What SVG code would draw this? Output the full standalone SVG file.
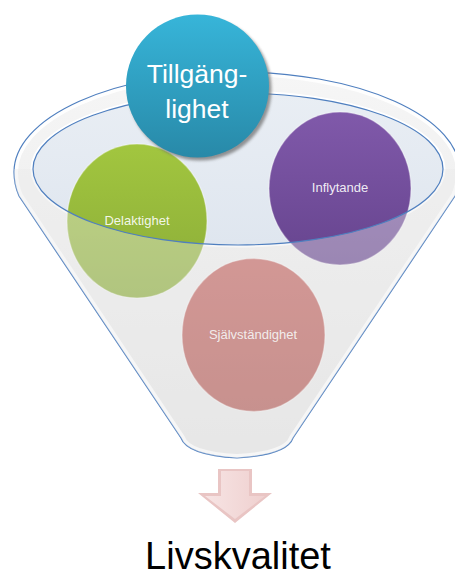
<svg xmlns="http://www.w3.org/2000/svg" width="455" height="579" viewBox="0 0 455 579">
  <defs>
    <linearGradient id="gBody" x1="0" y1="0" x2="0" y2="1">
      <stop offset="0" stop-color="#f6f6f6"/>
      <stop offset="1" stop-color="#e4e4e4"/>
    </linearGradient>
    <linearGradient id="gInner" x1="0" y1="0" x2="0" y2="1">
      <stop offset="0" stop-color="#e9eef4"/>
      <stop offset="1" stop-color="#dfe6ef"/>
    </linearGradient>
    <linearGradient id="gBlue" x1="0" y1="0" x2="0" y2="1">
      <stop offset="0" stop-color="#37b5d9"/>
      <stop offset="1" stop-color="#2889a8"/>
    </linearGradient>
    <linearGradient id="gGreen" x1="0" y1="0" x2="0" y2="1">
      <stop offset="0" stop-color="#a2c63f"/>
      <stop offset="1" stop-color="#8aab38"/>
    </linearGradient>
    <linearGradient id="gPurple" x1="0" y1="0" x2="0" y2="1">
      <stop offset="0" stop-color="#8059aa"/>
      <stop offset="1" stop-color="#66448e"/>
    </linearGradient>
    <linearGradient id="gRed" x1="0" y1="0" x2="0" y2="1">
      <stop offset="0" stop-color="#c2605c"/>
      <stop offset="1" stop-color="#b05651"/>
    </linearGradient>
    <linearGradient id="gArrow" x1="0" y1="0" x2="1" y2="0">
      <stop offset="0" stop-color="#f7e4e4"/>
      <stop offset="1" stop-color="#efd0cf"/>
    </linearGradient>
    <filter id="fShadow" x="-20%" y="-20%" width="140%" height="140%">
      <feGaussianBlur stdDeviation="1.5"/>
    </filter>
    <mask id="mFront" maskUnits="userSpaceOnUse" x="0" y="0" width="455" height="579">
      <rect x="0" y="169" width="455" height="410" fill="#fff"/>
      <ellipse cx="238" cy="169" rx="205" ry="76" fill="#000"/>
    </mask>
    <path id="funnelShape" d="M 14,172 A 223,100 0 0 1 460,172 C 460,180 459,187 455,196 L 293,438 Q 287,455 237,458 Q 187,455 181,438 L 19,196 C 15,187 14,180 14,172 Z"/>
  </defs>
  <style>
    .rim { fill: none; stroke: #4f7fbf; stroke-width: 1.2; }
    .glow { fill: none; stroke: #ffffff; stroke-width: 8; opacity: 0.9; }
    .node-circle { stroke: #ffffff; stroke-opacity: 0.35; stroke-width: 1.5; }
    .small { font-family: "Liberation Sans", Arial, sans-serif; font-size: 13px; fill: #ffffff; fill-opacity: 0.9; text-anchor: middle; }
    .big { font-family: "Liberation Sans", Arial, sans-serif; font-size: 26.5px; fill: #ffffff; text-anchor: middle; }
    .label { font-family: "Liberation Sans", Arial, sans-serif; font-size: 38px; fill: #000000; text-anchor: middle; }
  </style>

  <g id="funnel-back">
    <use href="#funnelShape" fill="url(#gBody)"/>
    <use href="#funnelShape" class="glow"/>
    <use href="#funnelShape" class="rim"/>
    <ellipse cx="238" cy="169" rx="206" ry="77" fill="none" stroke="#ffffff" stroke-width="3"/>
    <ellipse cx="238" cy="169" rx="205" ry="76" fill="url(#gInner)"/>
  </g>

  <g id="node-delaktighet">
    <ellipse class="node-circle" cx="137" cy="221" rx="70" ry="77" fill="url(#gGreen)"/>
    <text class="small" x="137" y="225">Delaktighet</text>
  </g>

  <g id="node-inflytande">
    <ellipse class="node-circle" cx="340" cy="188.5" rx="71" ry="76.5" fill="url(#gPurple)"/>
    <text class="small" x="340" y="192">Inflytande</text>
  </g>

  <g id="node-sjalvstandighet">
    <ellipse class="node-circle" cx="253.5" cy="335" rx="71.5" ry="76.5" fill="url(#gRed)"/>
    <text class="small" x="253" y="339">Självständighet</text>
  </g>

  <g id="funnel-front">
    <use href="#funnelShape" fill="#ebebeb" fill-opacity="0.4" mask="url(#mFront)"/>
    <ellipse cx="238" cy="169" rx="205" ry="76" class="rim"/>
  </g>

  <g id="node-tillganglighet">
    <circle cx="200" cy="89" r="71.5" fill="#6b6b6b" opacity="0.7" filter="url(#fShadow)"/>
    <circle cx="197.5" cy="86" r="71.5" fill="url(#gBlue)"/>
    <text class="big" x="197" y="83">Tillgäng-</text>
    <text class="big" x="197" y="118">lighet</text>
  </g>

  <g id="connectors">
    <polygon points="218,469 252,469 252,493 272,493 235,523 198,493 218,493" fill="#e9c5c4"/>
    <polygon points="221,471 249,471 249,496 265,496 235,519 205,496 221,496" fill="url(#gArrow)"/>
  </g>

  <g id="node-livskvalitet">
    <text class="label" x="238" y="569">Livskvalitet</text>
  </g>
</svg>
